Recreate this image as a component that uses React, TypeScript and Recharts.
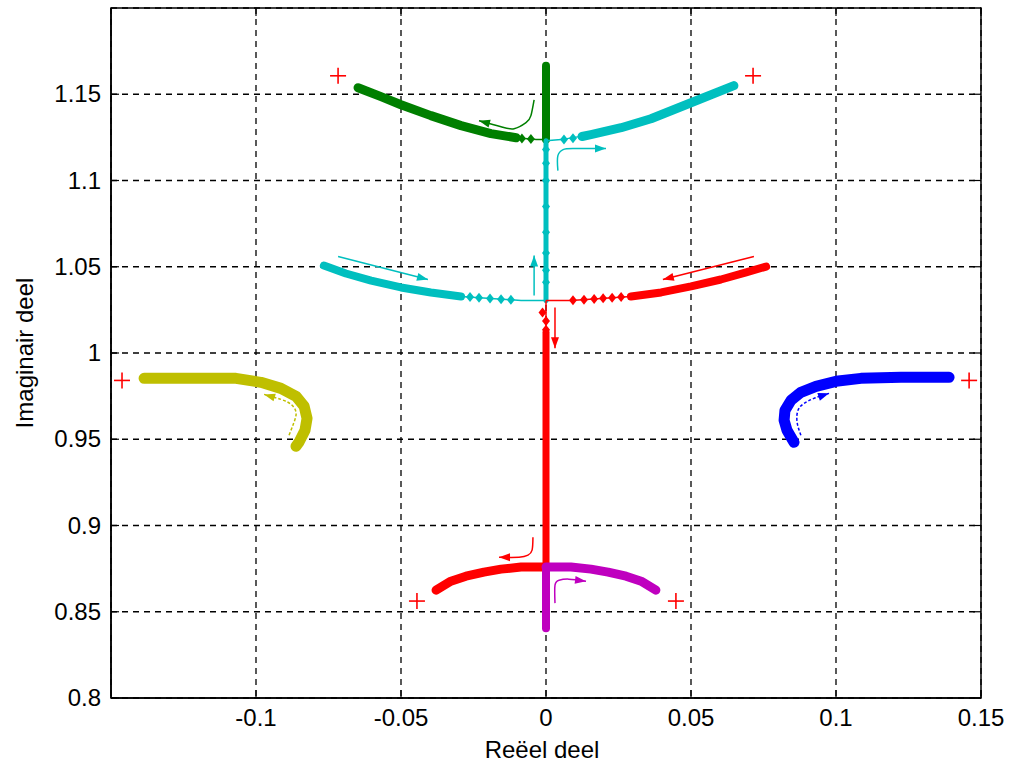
import React from 'react';
import { LineChart, Line, XAxis, YAxis, CartesianGrid, ReferenceArea } from 'recharts';

type P = { x: number; y: number };

const xTicks = [-0.1, -0.05, 0, 0.05, 0.1, 0.15];
const yTicks = [0.8, 0.85, 0.9, 0.95, 1, 1.05, 1.1, 1.15];
const xDomain: [number, number] = [-0.15, 0.15];
const yDomain: [number, number] = [0.8, 1.2];

// open-loop poles (red +)
const poles: P[] = [
  { x: -0.0717, y: 1.1607 }, { x: 0.0714, y: 1.1607 },
  { x: -0.1462, y: 0.9841 }, { x: 0.1459, y: 0.9841 },
  { x: -0.0445, y: 0.8562 }, { x: 0.0448, y: 0.8562 },
];

// green branch (top left)
const greenThick: P[] = [
  { x: -0.0648, y: 1.1538 }, { x: -0.0569, y: 1.1486 }, { x: -0.05, y: 1.1439 },
  { x: -0.0397, y: 1.1376 }, { x: -0.0293, y: 1.1318 }, { x: -0.019, y: 1.1272 },
  { x: -0.0103, y: 1.1248 },
];
const greenThin: P[] = [{ x: -0.0103, y: 1.1248 }, { x: -0.0034, y: 1.1237 }, { x: 0, y: 1.1237 }];
const greenDiamonds: P[] = [{ x: -0.0083, y: 1.1244 }, { x: -0.0052, y: 1.124 }];
const greenStem: P[] = [{ x: 0, y: 1.1237 }, { x: 0, y: 1.1665 }];

// cyan branch (top right + stem + left)
const cyanUpperThick: P[] = [
  { x: 0.0124, y: 1.1255 }, { x: 0.0155, y: 1.1266 }, { x: 0.0259, y: 1.1306 }, { x: 0.0362, y: 1.1358 },
  { x: 0.05, y: 1.1451 }, { x: 0.0648, y: 1.155 },
];
const cyanUpperThin: P[] = [{ x: 0, y: 1.1231 }, { x: 0.0052, y: 1.1237 }, { x: 0.0155, y: 1.1266 }];
const cyanUpperDiamonds: P[] = [{ x: 0.0062, y: 1.1238 }, { x: 0.0093, y: 1.1245 }];
const cyanStem: P[] = [{ x: 0, y: 1.1231 }, { x: 0, y: 1.0305 }];
const cyanStemDiamonds: P[] = [
  { x: 0, y: 1.118 }, { x: 0, y: 1.11 }, { x: 0, y: 1.1 }, { x: 0, y: 1.085 },
  { x: 0, y: 1.07 }, { x: 0, y: 1.058 }, { x: 0, y: 1.048 }, { x: 0, y: 1.041 },
];
const cyanLowerThick: P[] = [
  { x: -0.0766, y: 1.0507 }, { x: -0.069, y: 1.0461 }, { x: -0.0603, y: 1.042 },
  { x: -0.05, y: 1.038 }, { x: -0.0397, y: 1.0351 }, { x: -0.0293, y: 1.0328 },
];
const cyanLowerThin: P[] = [
  { x: -0.0293, y: 1.0328 }, { x: -0.019, y: 1.0316 }, { x: -0.0086, y: 1.0305 }, { x: 0, y: 1.0305 },
];
const cyanLowerDiamonds: P[] = [
  { x: -0.0262, y: 1.0324 }, { x: -0.0231, y: 1.032 }, { x: -0.0193, y: 1.0316 },
  { x: -0.0155, y: 1.0311 }, { x: -0.0121, y: 1.0308 },
];

// red branch (right + stem + lower left)
const redUpperThick: P[] = [
  { x: 0.0293, y: 1.0328 }, { x: 0.0397, y: 1.0351 }, { x: 0.05, y: 1.0386 },
  { x: 0.0603, y: 1.0426 }, { x: 0.069, y: 1.0467 }, { x: 0.0759, y: 1.0501 },
];
const redUpperThin: P[] = [
  { x: 0, y: 1.0305 }, { x: 0.0086, y: 1.0305 }, { x: 0.019, y: 1.0316 }, { x: 0.0293, y: 1.0328 },
];
const redUpperDiamonds: P[] = [
  { x: 0.0093, y: 1.0306 }, { x: 0.0131, y: 1.0309 }, { x: 0.0166, y: 1.0313 },
  { x: 0.0197, y: 1.0317 }, { x: 0.0228, y: 1.032 }, { x: 0.0259, y: 1.0324 },
];
const redStemThin: P[] = [{ x: 0, y: 1.0305 }, { x: 0, y: 1.012 }];
const redStemThick: P[] = [{ x: 0, y: 1.012 }, { x: 0, y: 0.8755 }];
const redStemDiamonds: P[] = [
  { x: -0.0012, y: 1.0235 }, { x: 0, y: 1.0185 }, { x: 0, y: 1.0135 },
];
const redLower: P[] = [
  { x: 0, y: 0.8759 }, { x: -0.0086, y: 0.8759 }, { x: -0.0155, y: 0.8747 },
  { x: -0.0214, y: 0.873 }, { x: -0.0276, y: 0.8706 }, { x: -0.0328, y: 0.8677 },
  { x: -0.0379, y: 0.8625 },
];

// magenta branch (lower right + stem)
const magentaLower: P[] = [
  { x: 0, y: 0.8759 }, { x: 0.0086, y: 0.8759 }, { x: 0.0155, y: 0.8747 },
  { x: 0.0214, y: 0.873 }, { x: 0.0276, y: 0.8706 }, { x: 0.0328, y: 0.8677 },
  { x: 0.0379, y: 0.8625 },
];
const magentaStem: P[] = [{ x: 0, y: 0.8759 }, { x: 0, y: 0.8405 }];

// olive branch (left) and blue branch (right)
const oliveBranch: P[] = [
  { x: -0.1386, y: 0.9853 }, { x: -0.119, y: 0.9853 }, { x: -0.1069, y: 0.9853 },
  { x: -0.0983, y: 0.983 }, { x: -0.0914, y: 0.9795 }, { x: -0.0862, y: 0.9749 },
  { x: -0.0834, y: 0.9691 }, { x: -0.0824, y: 0.9621 }, { x: -0.0831, y: 0.9552 },
  { x: -0.0852, y: 0.9482 }, { x: -0.0862, y: 0.9459 },
];
const blueBranch: P[] = [
  { x: 0.139, y: 0.9859 }, { x: 0.1224, y: 0.9859 }, { x: 0.1086, y: 0.9853 },
  { x: 0.1, y: 0.9836 }, { x: 0.0931, y: 0.9807 }, { x: 0.0879, y: 0.9772 },
  { x: 0.0845, y: 0.9726 }, { x: 0.0824, y: 0.9668 }, { x: 0.0821, y: 0.961 },
  { x: 0.0831, y: 0.9552 }, { x: 0.0855, y: 0.9482 },
];

// direction arrows
const arrowGreen: P[] = [
  { x: -0.0041, y: 1.1468 }, { x: -0.0052, y: 1.1376 }, { x: -0.0069, y: 1.1335 },
  { x: -0.011, y: 1.13 }, { x: -0.0155, y: 1.1312 }, { x: -0.0231, y: 1.1347 },
];
const arrowCyanTop: P[] = [
  { x: 0.0041, y: 1.1057 }, { x: 0.0041, y: 1.1144 }, { x: 0.0059, y: 1.1179 },
  { x: 0.0093, y: 1.1185 }, { x: 0.0207, y: 1.1185 },
];
const arrowCyanLeft: P[] = [{ x: -0.0717, y: 1.0559 }, { x: -0.0407, y: 1.0426 }];
const arrowCyanUp: P[] = [{ x: -0.0041, y: 1.0334 }, { x: -0.0041, y: 1.0565 }];
const arrowRedRight: P[] = [{ x: 0.0717, y: 1.0559 }, { x: 0.0403, y: 1.0426 }];
const arrowRedDown: P[] = [{ x: 0.0031, y: 1.0264 }, { x: 0.0031, y: 1.0027 }];
const arrowRedLow: P[] = [
  { x: -0.0045, y: 0.8932 }, { x: -0.0048, y: 0.8857 }, { x: -0.0062, y: 0.8828 },
  { x: -0.0093, y: 0.8816 }, { x: -0.0162, y: 0.8816 },
];
const arrowMagenta: P[] = [
  { x: 0.0031, y: 0.855 }, { x: 0.0031, y: 0.8654 }, { x: 0.0045, y: 0.8683 },
  { x: 0.0079, y: 0.8689 }, { x: 0.0138, y: 0.8677 },
];
const arrowOlive: P[] = [
  { x: -0.0886, y: 0.9523 }, { x: -0.0869, y: 0.9598 }, { x: -0.0862, y: 0.9656 },
  { x: -0.0879, y: 0.9702 }, { x: -0.0914, y: 0.9731 }, { x: -0.0972, y: 0.976 },
];
const arrowBlue: P[] = [
  { x: 0.0879, y: 0.9523 }, { x: 0.0866, y: 0.9598 }, { x: 0.0869, y: 0.9668 },
  { x: 0.089, y: 0.9708 }, { x: 0.0924, y: 0.9737 }, { x: 0.0976, y: 0.9766 },
];

const GREEN = '#007F00';
const CYAN = '#00BFBF';
const RED = '#FF0000';
const MAGENTA = '#BF00BF';
const OLIVE = '#BFBF00';
const BLUE = '#0000FF';

const W = 1010;
const H = 767;
const MARGIN = { top: 8, right: 29, left: 0, bottom: 0 };
const Y_AXIS_W = 111;
const X_AXIS_H = 69;
const PLOT_W = W - MARGIN.right - Y_AXIS_W;
const PLOT_H = H - MARGIN.top - X_AXIS_H;
const FONT = '"Liberation Sans", Arial, sans-serif';
const FS = 24;

const fmt = (v: number) => String(v);

const XTick = (props: any) => {
  const { x, y, payload } = props;
  const axisY = y - 10;
  return (
    <g>
      <line x1={x} x2={x} y1={axisY} y2={axisY - 8} stroke="#000" strokeWidth={1.2} />
      <line x1={x} x2={x} y1={axisY - PLOT_H} y2={axisY - PLOT_H + 8} stroke="#000" strokeWidth={1.2} />
      <text x={x} y={y} dy={18} textAnchor="middle" fontSize={FS} fontFamily={FONT} fill="#000">
        {fmt(payload.value)}
      </text>
    </g>
  );
};

const YTick = (props: any) => {
  const { x, y, payload } = props;
  const axisX = x + 10;
  return (
    <g>
      <line x1={axisX} x2={axisX + 8} y1={y} y2={y} stroke="#000" strokeWidth={1.2} />
      <line x1={axisX + PLOT_W} x2={axisX + PLOT_W - 8} y1={y} y2={y} stroke="#000" strokeWidth={1.2} />
      <text x={x} y={y} dy={8} textAnchor="end" fontSize={FS} fontFamily={FONT} fill="#000">
        {fmt(payload.value)}
      </text>
    </g>
  );
};

const plusDot = (props: any) => {
  const { cx, cy, index } = props;
  const s = 8;
  return (
    <g key={`p-${index}`}>
      <line x1={cx - s} x2={cx + s} y1={cy} y2={cy} stroke={RED} strokeWidth={1.6} />
      <line x1={cx} x2={cx} y1={cy - s} y2={cy + s} stroke={RED} strokeWidth={1.6} />
    </g>
  );
};

const diamondDot = (color: string, rw = 4, rh = 5) => (props: any) => {
  const { cx, cy, index } = props;
  return (
    <polygon
      key={`d-${index}`}
      points={`${cx},${cy - rh} ${cx + rw},${cy} ${cx},${cy + rh} ${cx - rw},${cy}`}
      fill={color}
    />
  );
};

const arrowDot = (arr: P[], color: string) => (props: any) => {
  const { cx, cy, index } = props;
  if (index !== arr.length - 1) return <g key={`a-${index}`} />;
  const a = arr[arr.length - 2];
  const b = arr[arr.length - 1];
  const dx = ((b.x - a.x) * PLOT_W) / (xDomain[1] - xDomain[0]);
  const dy = (-(b.y - a.y) * PLOT_H) / (yDomain[1] - yDomain[0]);
  const len = Math.hypot(dx, dy) || 1;
  const ux = dx / len;
  const uy = dy / len;
  const L = 11;
  const Wd = 4;
  const bx = cx - ux * L;
  const by = cy - uy * L;
  const p1 = `${cx},${cy}`;
  const p2 = `${bx - uy * Wd},${by + ux * Wd}`;
  const p3 = `${bx + uy * Wd},${by - ux * Wd}`;
  return <polygon key={`a-${index}`} points={`${p1} ${p2} ${p3}`} fill={color} />;
};

const thick = (data: P[], color: string, w: number, key: string) => (
  <Line
    key={key}
    data={data}
    dataKey="y"
    type="linear"
    stroke={color}
    strokeWidth={w}
    strokeLinejoin="round"
    strokeLinecap="round"
    dot={false}
    isAnimationActive={false}
  />
);

const thinLine = (data: P[], color: string, key: string) => (
  <Line key={key} data={data} dataKey="y" type="linear" stroke={color} strokeWidth={1.5} dot={false} isAnimationActive={false} />
);

const diamonds = (data: P[], color: string, key: string) => (
  <Line key={key} data={data} dataKey="y" type="linear" stroke="none" strokeWidth={0} dot={diamondDot(color)} isAnimationActive={false} />
);

const arrow = (data: P[], color: string, key: string, dashed = false) => (
  <Line
    key={key}
    data={data}
    dataKey="y"
    type="natural"
    stroke={color}
    strokeWidth={1.5}
    strokeDasharray={dashed ? '3 2' : undefined}
    dot={arrowDot(data, color)}
    isAnimationActive={false}
  />
);

const YLabel = (props: any) => {
  const vb = props.viewBox || { x: 0, y: MARGIN.top, width: Y_AXIS_W, height: PLOT_H };
  const cx = 24;
  const cy = vb.y + vb.height / 2;
  return (
    <text
      x={cx}
      y={cy}
      transform={`rotate(-90 ${cx} ${cy})`}
      textAnchor="middle"
      dominantBaseline="central"
      fontSize={FS}
      fontFamily={FONT}
      fill="#000"
    >
      Imaginair deel
    </text>
  );
};

const XLabel = (props: any) => {
  const vb = props.viewBox || { x: Y_AXIS_W, y: H - X_AXIS_H, width: PLOT_W, height: X_AXIS_H };
  return (
    <text x={vb.x + vb.width / 2 - 4} y={vb.y + 60} textAnchor="middle" fontSize={FS} fontFamily={FONT} fill="#000">
      Reëel deel
    </text>
  );
};

export default function App() {
  return (
    <div style={{ position: 'absolute', left: 0, top: 0, width: W, height: H, background: '#fff', fontFamily: FONT }}>
      <LineChart width={W} height={H} margin={MARGIN}>
        <CartesianGrid stroke="#000" strokeDasharray="6 5" strokeWidth={1.3} />
        <XAxis
          dataKey="x"
          type="number"
          domain={xDomain}
          ticks={xTicks}
          allowDataOverflow
          height={X_AXIS_H}
          tickSize={10}
          tickMargin={0}
          tickLine={false}
          axisLine={{ stroke: '#000', strokeWidth: 1.5 }}
          tick={<XTick />}
          interval={0}
          label={<XLabel />}
        />
        <YAxis
          type="number"
          domain={yDomain}
          ticks={yTicks}
          allowDataOverflow
          width={Y_AXIS_W}
          tickSize={10}
          tickMargin={0}
          tickLine={false}
          axisLine={{ stroke: '#000', strokeWidth: 1.5 }}
          tick={<YTick />}
          interval={0}
          label={<YLabel />}
        />
        <ReferenceArea x1={xDomain[0]} x2={xDomain[1]} y1={yDomain[0]} y2={yDomain[1]} fill="none" stroke="#000" strokeWidth={1.5} />

        {thinLine(greenThin, GREEN, 'g-thin')}
        {thick(greenThick, GREEN, 9, 'g-thick')}
        {diamonds(greenDiamonds, GREEN, 'g-dia')}
        {thick(greenStem, GREEN, 8, 'g-stem')}

        {thinLine(cyanUpperThin, CYAN, 'cu-thin')}
        {thick(cyanUpperThick, CYAN, 9, 'cu-thick')}
        {diamonds(cyanUpperDiamonds, CYAN, 'cu-dia')}
        {thick(cyanStem, CYAN, 5, 'c-stem')}
        {diamonds(cyanStemDiamonds, CYAN, 'c-stem-dia')}
        {thinLine(cyanLowerThin, CYAN, 'cl-thin')}
        {thick(cyanLowerThick, CYAN, 8, 'cl-thick')}
        {diamonds(cyanLowerDiamonds, CYAN, 'cl-dia')}

        {thinLine(redUpperThin, RED, 'ru-thin')}
        {thick(redUpperThick, RED, 8, 'ru-thick')}
        {diamonds(redUpperDiamonds, RED, 'ru-dia')}
        {thinLine(redStemThin, RED, 'rs-thin')}
        {thick(redStemThick, RED, 7, 'rs-thick')}
        {diamonds(redStemDiamonds, RED, 'rs-dia')}
        {thick(redLower, RED, 9, 'rl')}

        {thick(magentaLower, MAGENTA, 9, 'ml')}
        {thick(magentaStem, MAGENTA, 8, 'ms')}

        {thick(oliveBranch, OLIVE, 11, 'ol')}
        {thick(blueBranch, BLUE, 11, 'bl')}

        {arrow(arrowGreen, GREEN, 'ag')}
        {arrow(arrowCyanTop, CYAN, 'act')}
        {arrow(arrowCyanLeft, CYAN, 'acl')}
        {arrow(arrowCyanUp, CYAN, 'acu')}
        {arrow(arrowRedRight, RED, 'arr')}
        {arrow(arrowRedDown, RED, 'ard')}
        {arrow(arrowRedLow, RED, 'arl')}
        {arrow(arrowMagenta, MAGENTA, 'am')}
        {arrow(arrowOlive, OLIVE, 'ao', true)}
        {arrow(arrowBlue, BLUE, 'ab', true)}

        <Line data={poles} dataKey="y" type="linear" stroke="none" strokeWidth={0} dot={plusDot} isAnimationActive={false} />
      </LineChart>
    </div>
  );
}
